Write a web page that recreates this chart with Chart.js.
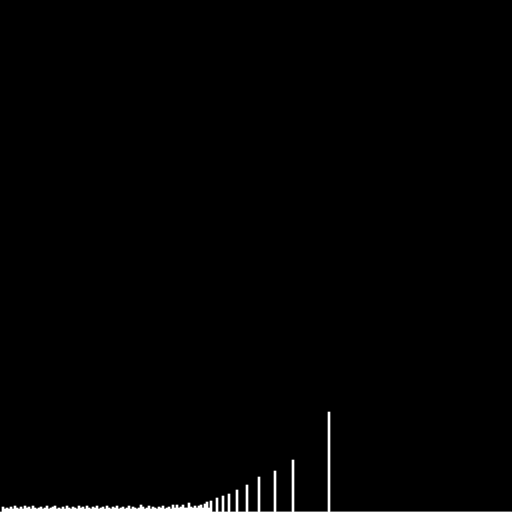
<!DOCTYPE html>
<html>
<head>
<meta charset="utf-8">
<script src="https://cdn.jsdelivr.net/npm/chart.js@4"></script>
<style>
  html, body { margin: 0; padding: 0; background: #000; }
  canvas { display: block; }
</style>
</head>
<body>
<canvas id="c" width="512" height="512"></canvas>
<script>
// 256 bins (0..255)
const binLabels = Array.from({length: 256}, (_, i) => String(i));

// bin values (in chart units, axis 0..512)
const lowBins = [
  0, 5, 3, 4, 3, 5, 3, 6, 4, 3, 5, 3, 6, 4, 5, 3, 6, 4, 3, 4,
  5, 3, 4, 6, 3, 4, 5, 6, 3, 4, 3, 5, 3, 6, 4, 3, 5, 4, 3, 6,
  4, 5, 3, 6, 4, 3, 5, 4, 6, 3, 4, 5, 3, 6, 4, 3, 5, 4, 6, 3,
  4, 5, 3, 4, 6, 3, 5, 4, 3, 4, 7, 5, 3, 4, 6, 3, 5, 4, 3, 5,
  4, 6, 3, 4, 5, 3
];
const highBinIndex = [86, 87, 88, 89, 90, 91, 92, 93, 94, 95, 96, 97, 98, 99, 100, 101, 102, 103, 104, 105, 108, 111, 114, 118, 123, 129, 137, 146, 164];
const highBinValue = [7, 4, 7, 4, 5, 7, 4, 4, 9, 5, 4, 6, 4, 6, 7, 4, 8, 10, 4, 11, 14, 16, 18, 22, 27, 35, 41, 52, 100];

const values = new Array(256).fill(0);
lowBins.forEach((v, i) => { values[i] = v; });
highBinIndex.forEach((idx, k) => { values[idx] = highBinValue[k]; });

new Chart(document.getElementById('c'), {
  type: 'bar',
  data: {
    labels: binLabels,
    datasets: [{
      data: values,
      backgroundColor: '#ffffff',
      borderWidth: 0,
      barPercentage: 1,
      categoryPercentage: 1
    }]
  },
  options: {
    responsive: false,
    animation: false,
    layout: { padding: 0 },
    plugins: { legend: { display: false }, tooltip: { enabled: false }, title: { display: false } },
    scales: {
      x: { display: false },
      y: { display: false, min: 0, max: 512 }
    }
  }
});
</script>
</body>
</html>
